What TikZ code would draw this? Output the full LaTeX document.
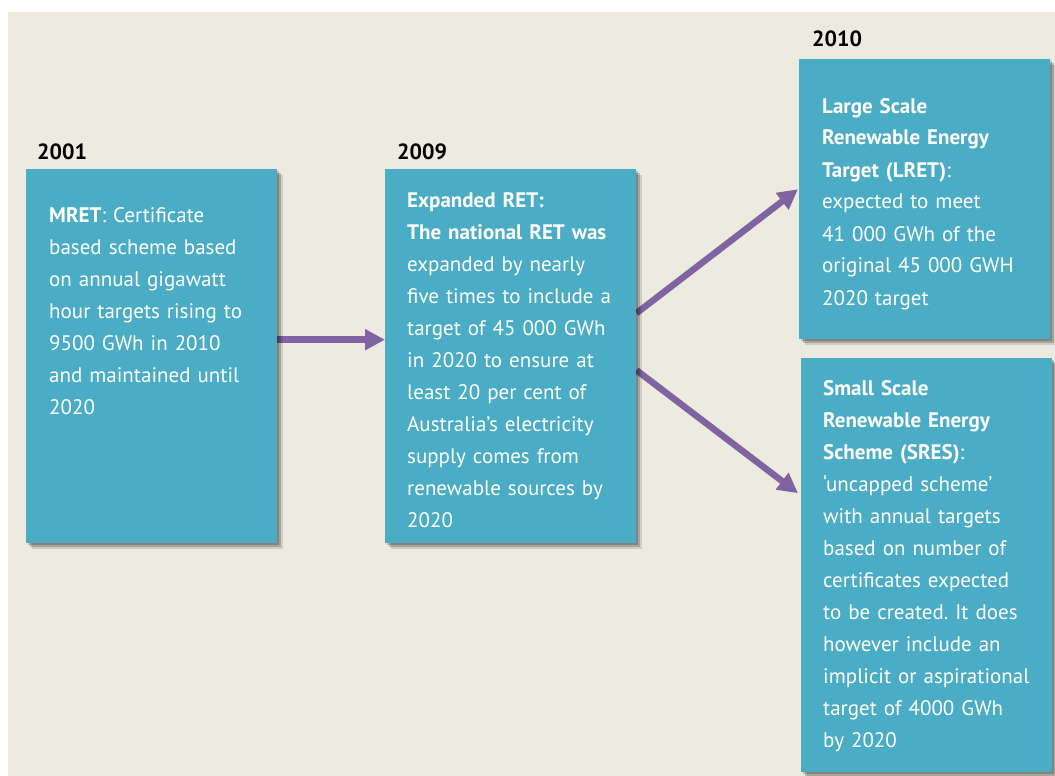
\documentclass[tikz,border=0pt]{standalone}
\usepackage{fontspec}
\setmainfont{PT Sans}
\usepackage{xcolor}
\usetikzlibrary{arrows.meta}
\usetikzlibrary{shadows}
\definecolor{ret-paper}{RGB}{237, 234, 224}
\definecolor{ret-blue}{RGB}{75, 172, 198}
\definecolor{ret-purple}{RGB}{128, 100, 162}
\pgfdeclarelayer{back}
\pgfsetlayers{back,main}
\frenchspacing
\tikzset{
  panel/.style={fill=ret-blue, inner sep=0pt, anchor=north west, minimum width=251pt,
    drop shadow={shadow xshift=6pt, shadow yshift=-6pt, fill=black, opacity=0.12},
    drop shadow={shadow xshift=4pt, shadow yshift=-4pt, fill=black, opacity=0.2},
    drop shadow={shadow xshift=2pt, shadow yshift=-2pt, fill=black, opacity=0.2}},
  paneltext/.style={text=white, text width=240pt, align=left, inner sep=0pt, anchor=base west,
    font=\fontsize{21}{32}\selectfont},
  year/.style={inner sep=0pt, anchor=base west, font=\bfseries\fontsize{22}{24}\selectfont},
  flow/.style={draw=ret-purple, line width=6.5pt, -{Triangle[length=20pt, width=20pt]}}
}

\begin{document}
\begin{tikzpicture}[x=1pt, y=-1pt]
\useasboundingbox (0,0) rectangle (1055,776);
\begin{pgfonlayer}{back}
  \fill[white] (0,0) rectangle (1055,776);
  \fill[ret-paper] (8,12) rectangle (1055,776);
\end{pgfonlayer}

\node[year] (y2001) at (37,159) {2001};
\node[year] (y2009) at (397,159) {2009};
\node[year] (y2010) at (812,47) {2010};

\node[panel, minimum height=374pt] (mret) at (26,169) {};
\node[panel, minimum height=374pt] (expanded) at (385,169) {};
\node[panel, minimum height=280pt] (lret) at (799,59) {};
\node[panel, minimum height=414pt] (sres) at (801,358) {};

\node[paneltext] (mretText) at ([shift={(23,53)}]mret.north west)
  {{\bfseries MRET}: Certificate\\based scheme based\\on annual gigawatt\\hour targets rising to\\9500 GWh in 2010\\and maintained until\\2020};
\node[paneltext] (expandedText) at ([shift={(22,38)}]expanded.north west)
  {{\bfseries Expanded RET:\\The national RET was}\\expanded by nearly\\five times to include a\\target of 45 000 GWh\\in 2020 to ensure at\\least 20 per cent of\\Australia’s electricity\\supply comes from\\renewable sources by\\2020};
\node[paneltext] (lretText) at ([shift={(23,54)}]lret.north west)
  {{\bfseries Large Scale\\Renewable Energy\\Target (LRET)}:\\expected to meet\\41 000 GWh of the\\original 45 000 GWH\\2020 target};
\node[paneltext] (sresText) at ([shift={(22,37)}]sres.north west)
  {{\bfseries Small Scale\\Renewable Energy\\Scheme (SRES)}:\\‘uncapped scheme’\\with annual targets\\based on number of\\certificates expected\\to be created. It does\\however include an\\implicit or aspirational\\target of 4000 GWh\\by 2020};

\begin{pgfonlayer}{back}
  \draw[flow] ([yshift=16.5pt]mret.east) -- ([yshift=16.5pt]expanded.west);
  \draw[flow] ([yshift=43pt]expanded.east) -- ([xshift=-1pt, yshift=10pt]lret.west);
  \draw[flow] ([yshift=-14pt]expanded.east) -- ([xshift=-3pt, yshift=72pt]sres.west);
\end{pgfonlayer}
\end{tikzpicture}
\end{document}
